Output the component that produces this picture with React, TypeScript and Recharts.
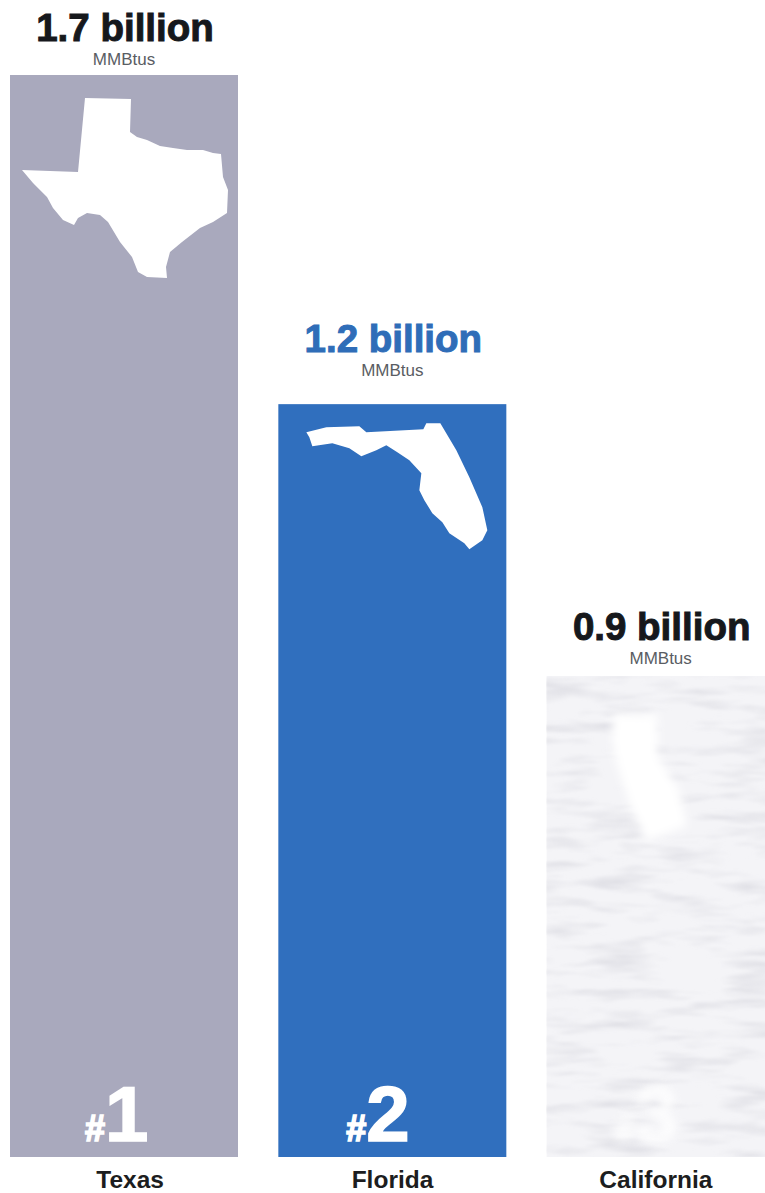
import React from 'react';
import { Bar, BarChart, LabelList, XAxis, YAxis } from 'recharts';

const states = ['Texas', 'Florida', 'California'];
const consumption = [1.7, 1.2, 0.9];
const ranks = ['1', '2', '3'];

const barColors = ['#a9a9bd', '#306fbe', '#f4f4f7'];
const valueColors = ['#16181c', '#2f6db8', '#16181c'];
const rankOpacity = [1, 1, 0.8];
// distance from the top of each bar up to the baseline of its value label
const valueGaps = [34, 52, 36];
const rankInsets = [75, 68, 68];
const tickShifts = [6, 0, -5];

// state silhouettes, relative to the top left corner of the bar
const outlines = [
  'M75 23L121 24L120 57L127 62L137 65L150 71L163 73L177 75L193 75L203 78L211 79L213 102L218 115L217 138L203 147L190 153L172 167L160 177L156 192L157 203L137 202L128 197L122 182L110 167L98 147L90 140L77 138L68 143L64 150L53 145L43 133L37 122L23 108L12 95L68 97Z',
  'M28 28L48 23L81 22L88 28L145 25L148 19L162 19L178 46L191 73L204 103L209 126L204 136L191 145L186 139L171 129L164 118L154 109L146 96L141 86L143 69L131 56L119 48L108 41L98 46L83 52L71 44L54 39L34 42L31 33Z',
  'M66 37L111 39L111 81L132 113L140 150L100 165L82 125L66 74Z'
];

const data = states.map((state, i) => ({ state, value: consumption[i], rank: ranks[i] }));

const sans = '"Liberation Sans", Arial, sans-serif';

function StateBar (props: any) {
  const { x, y, width, height, index } = props;
  const faded = index === 2;

  return (
    <g>
      {faded && (
        <defs>
          <filter id='soft' x='-10%' y='-10%' width='120%' height='120%'>
            <feGaussianBlur stdDeviation='4' />
          </filter>
          <filter id='mottle' x='0' y='0' width='100%' height='100%'>
            <feTurbulence type='fractalNoise' baseFrequency='0.015 0.09' numOctaves={3} seed={4} />
            <feColorMatrix values='0 0 0 0 0.6  0 0 0 0 0.6  0 0 0 0 0.66  1.2 0 0 0 -0.56' />
            <feGaussianBlur stdDeviation='1.2' />
          </filter>
        </defs>
      )}
      <rect x={x} y={y} width={width} height={height} fill={barColors[index]} />
      {faded && <rect x={x} y={y} width={width} height={height} filter='url(#mottle)' />}
      <path
        d={outlines[index]}
        transform={`translate(${x} ${y})`}
        fill='#fff'
        filter={faded ? 'url(#soft)' : undefined}
      />
      <text
        x={x + rankInsets[index]}
        y={y + height - 16}
        fill='#fff'
        stroke='#fff'
        strokeWidth={1.6}
        fontFamily={sans}
        fontWeight={700}
        opacity={rankOpacity[index]}
        filter={faded ? 'url(#soft)' : undefined}
      >
        <tspan fontSize={36}>#</tspan>
        <tspan fontSize={78}>{ranks[index]}</tspan>
      </text>
    </g>
  );
}

function ValueLabel (props: any) {
  const { x, y, width, value, index } = props;
  const cx = x + width / 2;
  const baseline = y - valueGaps[index];

  return (
    <g fontFamily={sans} textAnchor='middle'>
      <text
        x={cx + 1}
        y={baseline}
        fill={valueColors[index]}
        stroke={valueColors[index]}
        strokeWidth={1}
        fontSize={38.5}
        fontWeight={700}
      >
        {value.toFixed(1)} billion
      </text>
      <text x={cx} y={baseline + 24} fill='#5a5d63' fontSize={17}>MMBtus</text>
    </g>
  );
}

function StateTick (props: any) {
  const { x, y, payload, index } = props;

  return (
    <text
      x={x + tickShifts[index]}
      y={y + 23}
      fill='#1c1d20'
      fontFamily={sans}
      fontSize={24.5}
      fontWeight={700}
      textAnchor='middle'
    >
      {payload.value}
    </text>
  );
}

export default function App () {
  return (
    <div style={{ position: 'absolute', left: 0, top: 0, width: 765, height: 1193, overflow: 'hidden', background: '#fff' }}>
      <div style={{ position: 'absolute', left: -10, top: 0 }}>
        <BarChart
          data={data}
          width={805}
          height={1193}
          margin={{ top: 75, right: 0, bottom: 0, left: 0 }}
          barSize={228}
        >
          {/* log axis: the base of the bars sits at 0.541, not at zero */}
          <YAxis hide scale='log' domain={[0.541, 1.7]} allowDataOverflow />
          <XAxis
            dataKey='state'
            height={36}
            axisLine={false}
            tickLine={false}
            interval={0}
            tick={StateTick}
          />
          <Bar dataKey='value' isAnimationActive={false} shape={StateBar}>
            <LabelList dataKey='value' content={ValueLabel} />
          </Bar>
        </BarChart>
      </div>
    </div>
  );
}
